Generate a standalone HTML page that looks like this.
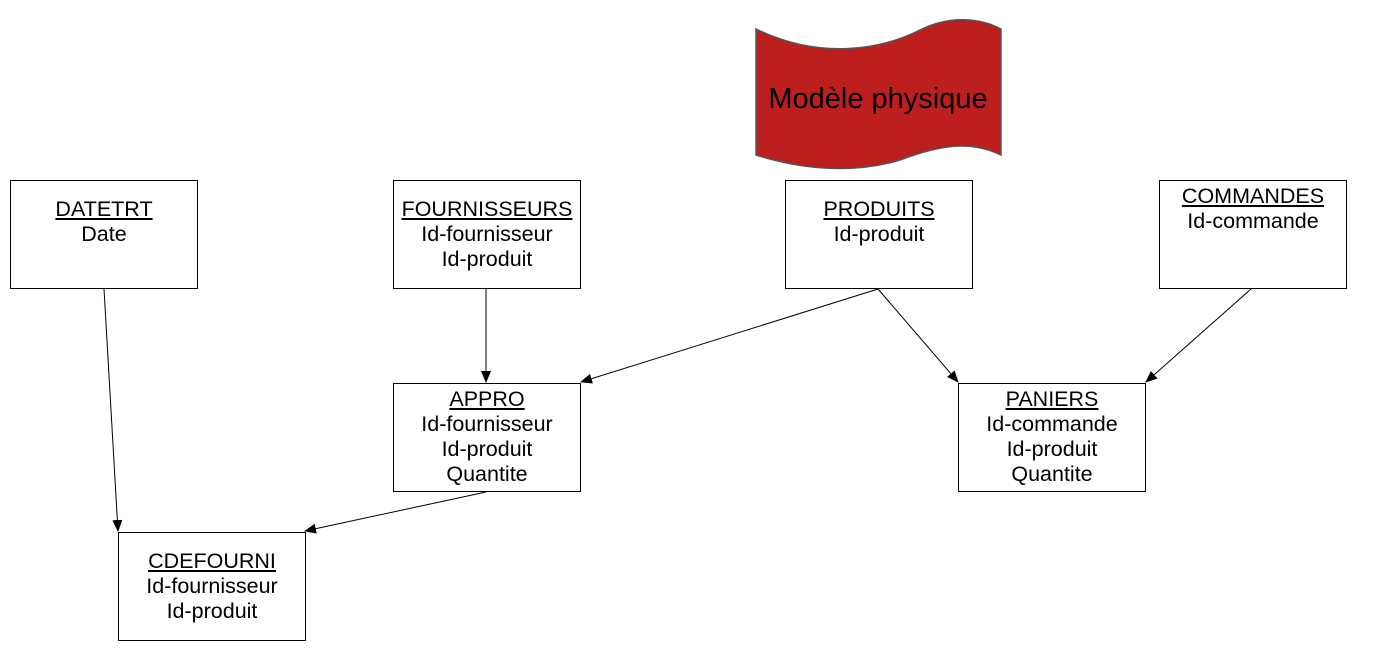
<!DOCTYPE html>
<html><head><meta charset="utf-8"><style>
body{margin:0;width:1388px;height:663px;background:#fff;position:relative;overflow:hidden;font-family:"Liberation Sans",sans-serif;}
.b{position:absolute;width:188px;height:109px;border:1px solid #000;box-sizing:border-box;text-align:center;font-size:21.5px;line-height:25px;color:#000;padding-top:16px;background:#fff;white-space:nowrap}
.b u{text-decoration:underline}
svg{position:absolute;left:0;top:0}
</style></head><body>
<svg width="1388" height="663">
<defs><marker id="a" markerWidth="12" markerHeight="10" refX="11" refY="5" orient="auto" markerUnits="userSpaceOnUse"><path d="M0,0 L12,5 L0,10z" fill="#000"/></marker></defs>
<path d="M756,29 C820,60 880,50 920,30 C950,15 980,18 1001,29 L1001,155 C970,140 940,145 900,160 C860,172 810,172 756,155 Z" fill="#bd1e1e" stroke="#555" stroke-width="1.5"/>
<text x="878" y="108" font-size="29" text-anchor="middle" font-family="Liberation Sans, sans-serif" fill="#000">Modèle physique</text>
<g stroke="#000" stroke-width="1" fill="none" marker-end="url(#a)">
<line x1="104" y1="289" x2="118" y2="531"/>
<line x1="486" y1="289" x2="486" y2="382"/>
<line x1="878" y1="289" x2="581" y2="382"/>
<line x1="878" y1="289" x2="958" y2="382"/>
<line x1="1251" y1="289" x2="1146" y2="382"/>
<line x1="486" y1="492" x2="305" y2="531"/>
</g>
</svg>
<div class="b" style="left:10px;top:180px"><u>DATETRT</u><br>Date</div>
<div class="b" style="left:393px;top:180px"><u>FOURNISSEURS</u><br>Id-fournisseur<br>Id-produit</div>
<div class="b" style="left:785px;top:180px"><u>PRODUITS</u><br>Id-produit</div>
<div class="b" style="left:1159px;top:180px;padding-top:3px"><u>COMMANDES</u><br>Id-commande</div>
<div class="b" style="left:393px;top:383px;padding-top:3px"><u>APPRO</u><br>Id-fournisseur<br>Id-produit<br>Quantite</div>
<div class="b" style="left:958px;top:383px;padding-top:3px"><u>PANIERS</u><br>Id-commande<br>Id-produit<br>Quantite</div>
<div class="b" style="left:118px;top:532px"><u>CDEFOURNI</u><br>Id-fournisseur<br>Id-produit</div>
</body></html>
